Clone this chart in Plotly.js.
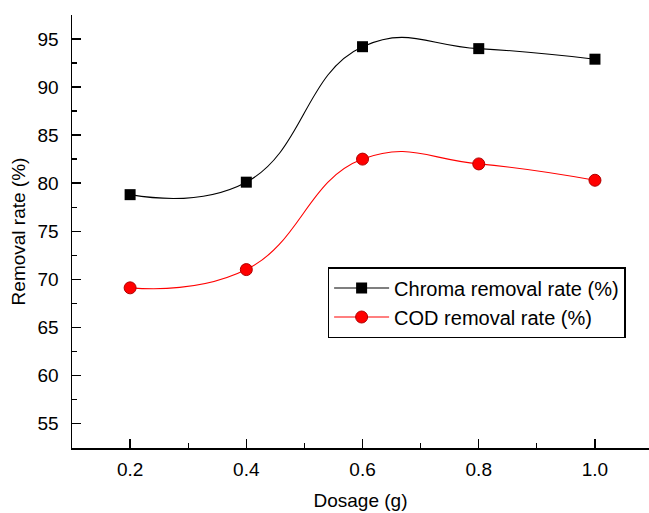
<!DOCTYPE html>
<html>
<head>
<meta charset="utf-8">
<script src="https://cdn.plot.ly/plotly-3.0.1.min.js"></script>
<style>html,body{margin:0;padding:0;background:#fff;}#chart{width:649px;height:513px;}</style>
</head>
<body>
<div id="chart"></div>
<script>
const dosage = [0.2, 0.4, 0.6, 0.8, 1.0];
const chromaRate = [78.8, 80.1, 94.2, 94.0, 92.9];
const codRate = [69.1, 71.0, 82.5, 82.0, 80.3];
const seriesNames = ["Chroma removal rate (%)", "COD removal rate (%)"];
const xTickVals = [0.2, 0.4, 0.6, 0.8, 1.0];
const xTickText = ["0.2", "0.4", "0.6", "0.8", "1.0"];
const yTickVals = [55, 60, 65, 70, 75, 80, 85, 90, 95];

const font = {family: "Liberation Sans, Arial, sans-serif", size: 19, color: "#000"};

const traces = [
  {
    x: dosage, y: chromaRate, name: seriesNames[0], type: "scatter", mode: "lines+markers",
    line: {color: "#000", width: 1.1, shape: "spline", smoothing: 1.3},
    marker: {symbol: "square", size: 11, color: "#000"}
  },
  {
    x: dosage, y: codRate, name: seriesNames[1], type: "scatter", mode: "lines+markers",
    line: {color: "#ff0000", width: 1.1, shape: "spline", smoothing: 1.3},
    marker: {symbol: "circle", size: 12, color: "#ff0000", line: {color: "#b00000", width: 1}}
  }
];

const layout = {
  width: 649, height: 513,
  margin: {l: 72, r: 0, t: 15, b: 65},
  paper_bgcolor: "#fff", plot_bgcolor: "#fff",
  font: font,
  showlegend: true,
  legend: {
    x: 0.443, y: 0.418, xanchor: "left", yanchor: "top",
    bordercolor: "#000", borderwidth: 1.5, bgcolor: "#fff",
    font: {family: font.family, size: 20, color: "#000"},
    itemwidth: 55,
    tracegroupgap: 0
  },
  xaxis: {
    range: [0.1, 1.093],
    tickvals: xTickVals, ticktext: xTickText,
    ticks: "inside", ticklen: 9, tickwidth: 1.3, tickcolor: "#000",
    minor: {dtick: 0.1, tick0: 0.1, ticks: "inside", ticklen: 5, tickwidth: 1.3, tickcolor: "#000", showgrid: false},
    showline: true, linecolor: "#000", linewidth: 1.5,
    showgrid: false, zeroline: false,
    tickfont: font, ticklabelstandoff: 4,
    title: {text: "Dosage (g)", font: font, standoff: 14}
  },
  yaxis: {
    range: [52.43, 97.5],
    tickvals: yTickVals,
    ticks: "inside", ticklen: 9, tickwidth: 1.3, tickcolor: "#000",
    minor: {dtick: 5, tick0: 52.5, ticks: "inside", ticklen: 5, tickwidth: 1.3, tickcolor: "#000", showgrid: false},
    showline: true, linecolor: "#000", linewidth: 1.5,
    showgrid: false, zeroline: false,
    tickfont: font, ticklabelstandoff: 8,
    title: {text: "Removal rate (%)", font: font, standoff: 7}
  }
};

Plotly.newPlot("chart", traces, layout, {displayModeBar: false, staticPlot: true});
</script>
</body>
</html>
